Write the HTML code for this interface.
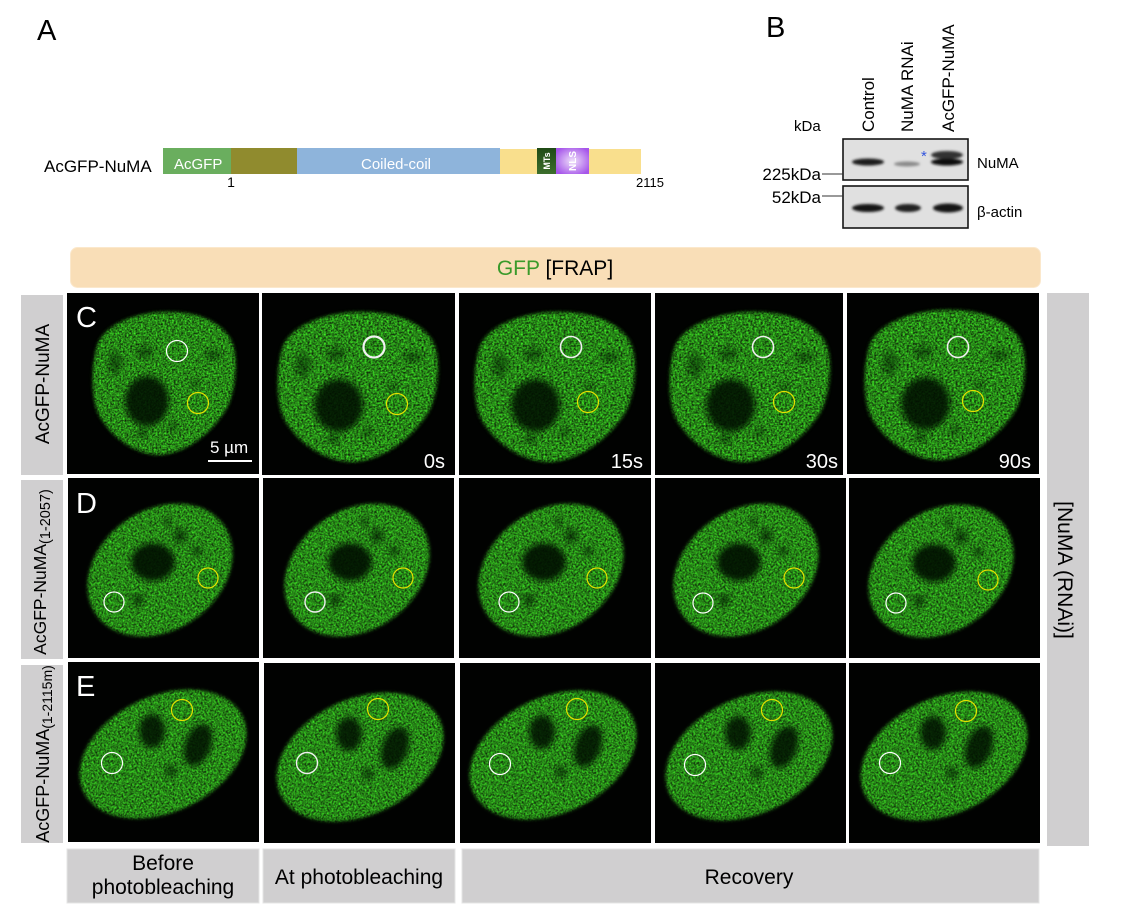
<!DOCTYPE html>
<html>
<head>
<meta charset="utf-8">
<style>
  html,body{margin:0;padding:0;background:#fff;}
  svg{display:block;}
  text{font-family:"Liberation Sans", Arial, sans-serif;}
</style>
</head>
<body>
<svg width="1134" height="918" viewBox="0 0 1134 918" xmlns="http://www.w3.org/2000/svg" xmlns:xlink="http://www.w3.org/1999/xlink">
<rect width="1134" height="918" fill="#ffffff"/>
<defs>
  <filter id="grain" color-interpolation-filters="sRGB" x="-8%" y="-8%" width="116%" height="116%">
    <feTurbulence type="fractalNoise" baseFrequency="0.55" numOctaves="2" seed="4" result="n"/>
    <feColorMatrix in="n" type="matrix" values="0.3 0 0 0 0  1.25 0 0 0 -0.1  0.18 0 0 0 0  0 0 0 0 1" result="c"/>
    <feGaussianBlur in="SourceAlpha" stdDeviation="1.6" result="a"/>
    <feComposite in="c" in2="a" operator="in" result="t"/>
    <feGaussianBlur in="t" stdDeviation="0.35"/>
  </filter>
  <filter id="dk" x="-60%" y="-60%" width="220%" height="220%">
    <feGaussianBlur stdDeviation="2.8"/>
  </filter>
  <filter id="bl" x="-50%" y="-100%" width="200%" height="300%">
    <feGaussianBlur stdDeviation="1.2"/>
  </filter>
  <radialGradient id="nls" cx="50%" cy="50%" r="60%">
    <stop offset="0" stop-color="#efe0fa"/>
    <stop offset="1" stop-color="#a656ea"/>
  </radialGradient>
  <linearGradient id="mts" x1="0" y1="0" x2="0" y2="1">
    <stop offset="0" stop-color="#1f4a16"/>
    <stop offset="1" stop-color="#3c6e2c"/>
  </linearGradient>

  <g id="cellC">
    <path d="M31,50 C40,30 70,20 95,19 C125,18 150,25 163,45 C172,60 170,95 160,115 C145,140 120,160 93,162 C65,162 40,140 30,118 C24,100 24,70 31,50 Z" fill="#2a8a20" filter="url(#grain)"/>
    <g fill="#031203" filter="url(#dk)">
      <ellipse cx="80" cy="108" rx="22" ry="25" opacity="0.88"/>
      <g opacity="0.5">
      <ellipse cx="48" cy="70" rx="6" ry="12"/>
      <ellipse cx="78" cy="59" rx="8" ry="6"/>
      <ellipse cx="146" cy="62" rx="8" ry="5"/>
      <ellipse cx="76" cy="140" rx="5" ry="5"/>
      <ellipse cx="106" cy="134" rx="5" ry="4"/>
      <ellipse cx="128" cy="91" rx="4" ry="4"/>
      </g>
    </g>
  </g>
  <g id="cellD">
    <ellipse cx="92" cy="92" rx="78" ry="60" transform="rotate(-35 92 92)" fill="#2a8a20" filter="url(#grain)"/>
    <g fill="#031203" filter="url(#dk)">
      <ellipse cx="85" cy="84" rx="22" ry="19" opacity="0.9"/>
      <g opacity="0.6">
      <ellipse cx="112" cy="58" rx="7" ry="7"/>
      <ellipse cx="129" cy="73" rx="5" ry="5"/>
      <ellipse cx="70" cy="122" rx="6" ry="6"/>
      <ellipse cx="100" cy="44" rx="4" ry="4"/>
      </g>
    </g>
  </g>
  <g id="cellE">
    <ellipse cx="95" cy="92" rx="88" ry="58" transform="rotate(-25 95 92)" fill="#2a8a20" filter="url(#grain)"/>
    <g fill="#031203" filter="url(#dk)">
      <ellipse cx="84" cy="69" rx="13" ry="17" opacity="0.85"/>
      <ellipse cx="130" cy="83" rx="13" ry="22" transform="rotate(20 130 83)" opacity="0.85"/>
      <ellipse cx="103" cy="109" rx="6" ry="6" opacity="0.6"/>
    </g>
  </g>
</defs>

<!-- ===== Panel A ===== -->
<text x="37" y="40" font-size="29">A</text>
<text x="44" y="172" font-size="17">AcGFP-NuMA</text>
<rect x="163" y="148" width="68" height="26" fill="#6aae5e"/>
<rect x="231" y="148" width="66" height="26" fill="#908b2e"/>
<rect x="297" y="148" width="203" height="26" fill="#8eb4db"/>
<rect x="500" y="149" width="37" height="25" fill="#f9df8d"/>
<rect x="537" y="148" width="19" height="26" fill="url(#mts)"/>
<rect x="556" y="148" width="33" height="26" fill="url(#nls)"/>
<rect x="589" y="149" width="52" height="25" fill="#f9df8d"/>
<text x="174" y="169" font-size="15" fill="#ffffff">AcGFP</text>
<text x="396" y="169" font-size="15" fill="#ffffff" text-anchor="middle">Coiled-coil</text>
<text transform="translate(550,161) rotate(-90)" font-size="9" font-weight="bold" fill="#ffffff" text-anchor="middle">MTs</text>
<text transform="translate(576,161) rotate(-90)" font-size="10" font-weight="bold" fill="#ffffff" text-anchor="middle">NLS</text>
<text x="231" y="187" font-size="14" text-anchor="middle">1</text>
<text x="636" y="187" font-size="13">2115</text>

<!-- ===== Panel B ===== -->
<text x="766" y="37" font-size="29">B</text>
<text x="794" y="131" font-size="15">kDa</text>
<text transform="translate(874,132) rotate(-90)" font-size="17">Control</text>
<text transform="translate(913,132) rotate(-90)" font-size="17">NuMA RNAi</text>
<text transform="translate(954,132) rotate(-90)" font-size="17">AcGFP-NuMA</text>

<rect x="843" y="139" width="125" height="41" fill="#e0e0e0" stroke="#151515" stroke-width="1.6"/>
<g filter="url(#bl)">
  <ellipse cx="868" cy="162" rx="16" ry="3.5" fill="#1a1a1a"/>
  <ellipse cx="907" cy="164" rx="13" ry="2.5" fill="#8a8a8a"/>
  <ellipse cx="947" cy="155" rx="16" ry="4" fill="#333"/>
  <ellipse cx="947" cy="162" rx="16" ry="3.5" fill="#111"/>
</g>
<text x="921" y="161" font-size="15" fill="#3355dd">*</text>

<rect x="843" y="186" width="125" height="42" fill="#e0e0e0" stroke="#151515" stroke-width="1.6"/>
<g filter="url(#bl)">
  <ellipse cx="868" cy="208" rx="16" ry="4" fill="#161616"/>
  <ellipse cx="908" cy="208" rx="13" ry="4" fill="#202020"/>
  <ellipse cx="948" cy="208" rx="15" ry="4.5" fill="#141414"/>
</g>
<text x="821" y="180" font-size="17" text-anchor="end">225kDa</text>
<line x1="822" y1="174" x2="843" y2="174" stroke="#333" stroke-width="1"/>
<text x="821" y="203" font-size="17" text-anchor="end">52kDa</text>
<line x1="822" y1="196" x2="843" y2="196" stroke="#333" stroke-width="1"/>
<text x="977" y="168" font-size="15">NuMA</text>
<text x="977" y="217" font-size="15">β-actin</text>

<!-- ===== Banner ===== -->
<rect x="70.5" y="247.5" width="970" height="40" rx="7" fill="#f9deb7" stroke="#fbe8cc" stroke-width="1"/>
<text x="555" y="275" font-size="21" text-anchor="middle"><tspan fill="#3a9a2a">GFP</tspan> [FRAP]</text>

<!-- ===== Left labels ===== -->
<rect x="21" y="295" width="42" height="180" fill="#d0cfd0"/>
<rect x="21" y="480" width="42" height="179" fill="#d0cfd0"/>
<rect x="21" y="665" width="42" height="178" fill="#d0cfd0"/>
<text transform="translate(49,384) rotate(-90)" font-size="19" text-anchor="middle">AcGFP-NuMA</text>
<text transform="translate(46,572) rotate(-90)" font-size="17.5" text-anchor="middle">AcGFP-NuMA<tspan font-size="14.5" dy="4">(1-2057)</tspan></text>
<text transform="translate(49,754) rotate(-90)" font-size="18" text-anchor="middle">AcGFP-NuMA<tspan font-size="14" dy="3">(1-2115m)</tspan></text>

<!-- ===== Right label ===== -->
<rect x="1047" y="293" width="42" height="553" fill="#d0cfd0"/>
<text transform="translate(1058,570) rotate(90)" font-size="21" text-anchor="middle">[NuMA (RNAi)]</text>

<!-- ===== Row C ===== -->
<svg x="67" y="293" width="192" height="181">
  <rect width="192" height="181" fill="#010201"/>
  <use href="#cellC"/>
  <circle cx="110" cy="58" r="10.5" fill="none" stroke="#ffffff" stroke-width="1.2"/>
  <circle cx="131" cy="110" r="10.5" fill="none" stroke="#e6e000" stroke-width="1.2"/>
  <text x="9" y="34" font-size="29" fill="#ffffff">C</text>
  <text x="143" y="160" font-size="17" fill="#ffffff">5 µm</text>
  <rect x="141" y="167" width="44" height="2" fill="#ffffff"/>
</svg>
<svg x="262" y="293" width="193" height="182">
  <rect width="193" height="182" fill="#010201"/>
  <use href="#cellC" transform="matrix(1.12 0 0 1.05 -13 -1)"/>
  <circle cx="112" cy="54" r="10.5" fill="none" stroke="#f2f2f2" stroke-width="2.2"/>
  <circle cx="135" cy="111" r="10.5" fill="none" stroke="#e6e000" stroke-width="1.2"/>
  <text x="183" y="175" font-size="20" fill="#ffffff" text-anchor="end">0s</text>
</svg>
<svg x="459" y="293" width="192" height="182">
  <rect width="192" height="182" fill="#010201"/>
  <use href="#cellC" transform="matrix(1.12 0 0 1.05 -13 -1)"/>
  <circle cx="112" cy="54" r="10.5" fill="none" stroke="#f0f0f0" stroke-width="1.6"/>
  <circle cx="129" cy="109" r="10.5" fill="none" stroke="#e6e000" stroke-width="1.2"/>
  <text x="184" y="175" font-size="20" fill="#ffffff" text-anchor="end">15s</text>
</svg>
<svg x="655" y="293" width="188" height="182">
  <rect width="188" height="182" fill="#010201"/>
  <use href="#cellC" transform="matrix(1.12 0 0 1.05 -14 -1)"/>
  <circle cx="108" cy="54" r="10.5" fill="none" stroke="#f0f0f0" stroke-width="1.6"/>
  <circle cx="129" cy="109" r="10.5" fill="none" stroke="#e6e000" stroke-width="1.2"/>
  <text x="183" y="175" font-size="20" fill="#ffffff" text-anchor="end">30s</text>
</svg>
<svg x="847" y="293" width="192" height="181">
  <rect width="192" height="181" fill="#010201"/>
  <use href="#cellC" transform="matrix(1.12 0 0 1.05 -11 -3)"/>
  <circle cx="111" cy="54" r="10.5" fill="none" stroke="#f0f0f0" stroke-width="1.6"/>
  <circle cx="126" cy="108" r="10.5" fill="none" stroke="#e6e000" stroke-width="1.2"/>
  <text x="184" y="175" font-size="20" fill="#ffffff" text-anchor="end">90s</text>
</svg>

<!-- ===== Row D ===== -->
<svg x="68" y="478" width="191" height="180">
  <rect width="191" height="180" fill="#010201"/>
  <use href="#cellD"/>
  <circle cx="46" cy="124" r="10" fill="none" stroke="#ffffff" stroke-width="1.2"/>
  <circle cx="140" cy="100" r="10" fill="none" stroke="#e6e000" stroke-width="1.2"/>
  <text x="8" y="35" font-size="29" fill="#ffffff">D</text>
</svg>
<svg x="263" y="478" width="191" height="180">
  <rect width="191" height="180" fill="#010201"/>
  <use href="#cellD" transform="translate(2,0)"/>
  <circle cx="52" cy="124" r="10" fill="none" stroke="#f0f0f0" stroke-width="1.4"/>
  <circle cx="140" cy="100" r="10" fill="none" stroke="#e6e000" stroke-width="1.2"/>
</svg>
<svg x="459" y="478" width="192" height="180">
  <rect width="192" height="180" fill="#010201"/>
  <use href="#cellD" transform="translate(0,0)"/>
  <circle cx="50" cy="124" r="10" fill="none" stroke="#ffffff" stroke-width="1.2"/>
  <circle cx="138" cy="100" r="10" fill="none" stroke="#e6e000" stroke-width="1.2"/>
</svg>
<svg x="655" y="478" width="191" height="180">
  <rect width="191" height="180" fill="#010201"/>
  <use href="#cellD" transform="translate(-1,0)"/>
  <circle cx="48" cy="125" r="10" fill="none" stroke="#ffffff" stroke-width="1.2"/>
  <circle cx="139" cy="100" r="10" fill="none" stroke="#e6e000" stroke-width="1.2"/>
</svg>
<svg x="849" y="478" width="191" height="180">
  <rect width="191" height="180" fill="#010201"/>
  <use href="#cellD" transform="translate(0,1)"/>
  <circle cx="47" cy="125" r="10" fill="none" stroke="#ffffff" stroke-width="1.2"/>
  <circle cx="139" cy="102" r="10" fill="none" stroke="#e6e000" stroke-width="1.2"/>
</svg>

<!-- ===== Row E ===== -->
<svg x="68" y="662" width="191" height="180">
  <rect width="191" height="180" fill="#010201"/>
  <use href="#cellE"/>
  <circle cx="44" cy="101" r="10.5" fill="none" stroke="#ffffff" stroke-width="1.2"/>
  <circle cx="114" cy="48" r="10.5" fill="none" stroke="#e6e000" stroke-width="1.2"/>
  <text x="8" y="34" font-size="29" fill="#ffffff">E</text>
</svg>
<svg x="264" y="663" width="191" height="180">
  <rect width="191" height="180" fill="#010201"/>
  <use href="#cellE" transform="translate(1,2)"/>
  <circle cx="43" cy="100" r="10.5" fill="none" stroke="#f0f0f0" stroke-width="1.4"/>
  <circle cx="114" cy="46" r="10.5" fill="none" stroke="#e6e000" stroke-width="1.2"/>
</svg>
<svg x="460" y="663" width="191" height="180">
  <rect width="191" height="180" fill="#010201"/>
  <use href="#cellE" transform="translate(-2,0)"/>
  <circle cx="40" cy="101" r="10.5" fill="none" stroke="#ffffff" stroke-width="1.2"/>
  <circle cx="117" cy="46" r="10.5" fill="none" stroke="#e6e000" stroke-width="1.2"/>
</svg>
<svg x="655" y="663" width="191" height="180">
  <rect width="191" height="180" fill="#010201"/>
  <use href="#cellE" transform="translate(-1,1)"/>
  <circle cx="40" cy="102" r="10.5" fill="none" stroke="#ffffff" stroke-width="1.2"/>
  <circle cx="117" cy="47" r="10.5" fill="none" stroke="#e6e000" stroke-width="1.2"/>
</svg>
<svg x="849" y="663" width="191" height="180">
  <rect width="191" height="180" fill="#010201"/>
  <use href="#cellE" transform="translate(0,1)"/>
  <circle cx="41" cy="100" r="10.5" fill="none" stroke="#ffffff" stroke-width="1.2"/>
  <circle cx="117" cy="48" r="10.5" fill="none" stroke="#e6e000" stroke-width="1.2"/>
</svg>

<!-- ===== Bottom labels ===== -->
<rect x="67" y="849" width="192" height="54" fill="#d0cfd0" stroke="#e4e4e4" stroke-width="1"/>
<rect x="263" y="849" width="192" height="54" fill="#d0cfd0" stroke="#e4e4e4" stroke-width="1"/>
<rect x="462" y="849" width="577" height="54" fill="#d0cfd0" stroke="#e4e4e4" stroke-width="1"/>
<text x="163" y="870" font-size="21" text-anchor="middle">Before</text>
<text x="163" y="894" font-size="21" text-anchor="middle">photobleaching</text>
<text x="359" y="884" font-size="21" text-anchor="middle">At photobleaching</text>
<text x="749" y="884" font-size="21" text-anchor="middle">Recovery</text>
</svg>
</body>
</html>
